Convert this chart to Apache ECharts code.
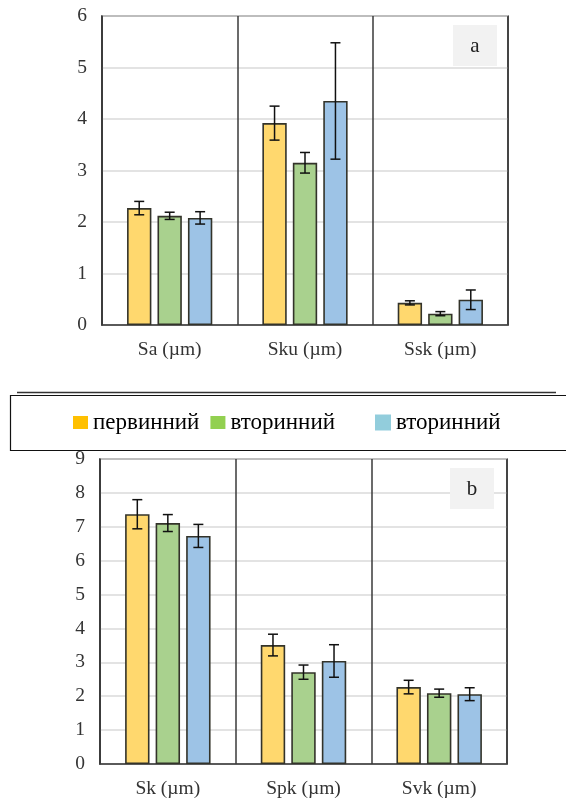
<!DOCTYPE html>
<html>
<head>
<meta charset="utf-8">
<script src="https://cdn.jsdelivr.net/npm/echarts@6/dist/echarts.min.js"></script>
<style>
  html, body { margin: 0; padding: 0; background: #fff; }
  #chart { width: 566px; height: 799px; }
</style>
</head>
<body>
<div id="chart"></div>
<script>
// Surface roughness parameters, panel (a)
const categoriesA = ['Sa (µm)', 'Sku (µm)', 'Ssk (µm)'];
const primaryA = [2.27, 3.92, 0.43];
const primaryErrA = [0.13, 0.33, 0.04];
const secondaryA = [2.12, 3.15, 0.22];
const secondaryErrA = [0.07, 0.20, 0.04];
const tertiaryA = [2.08, 4.35, 0.49];
const tertiaryErrA = [0.12, 1.13, 0.19];

// Functional (core / peak / valley) parameters, panel (b)
const categoriesB = ['Sk (µm)', 'Spk (µm)', 'Svk (µm)'];
const primaryB = [7.37, 3.51, 2.27];
const primaryErrB = [0.43, 0.32, 0.20];
const secondaryB = [7.11, 2.71, 2.09];
const secondaryErrB = [0.25, 0.21, 0.12];
const tertiaryB = [6.73, 3.04, 2.06];
const tertiaryErrB = [0.34, 0.48, 0.19];

const ticksA = [0, 1, 2, 3, 4, 5, 6];
const ticksB = [0, 1, 2, 3, 4, 5, 6, 7, 8, 9];

const seriesNames = ['первинний', 'вторинний', 'вторинний-2'];
const legendLabels = { 'первинний': 'первинний', 'вторинний': 'вторинний', 'вторинний-2': 'вторинний' };

const barColors = ['#FFD86E', '#A9D18E', '#9DC3E6'];
const legendColors = ['#FFC000', '#92D050', '#92CDDC'];

const FONT = '"Liberation Serif", "DejaVu Serif", serif';
const LINE = '#3a3a3a';
const BAR_W = 0.18;      // bar width as share of the category band
const BAR_GAP = 0.25;    // gap between bars as share of bar width

function makeAxes(gridIndex, cats, ticks) {
  const xAxis = {
    type: 'category', gridIndex, data: cats,
    axisLine: { show: true, lineStyle: { color: LINE, width: 1.5 } },
    axisTick: { show: false },
    axisLabel: { fontFamily: FONT, fontSize: 19.5, color: '#333', margin: 15 },
    splitLine: { show: true, interval: 0, lineStyle: { color: LINE, width: 1.5 } }
  };
  const yAxis = {
    type: 'value', gridIndex, min: ticks[0], max: ticks[ticks.length - 1], interval: 1,
    axisLine: { show: true, lineStyle: { color: LINE, width: 1.5 } },
    axisTick: { show: false },
    axisLabel: { fontFamily: FONT, fontSize: 19.5, color: '#333', margin: 15 },
    splitLine: { show: true, lineStyle: { color: '#DADADA', width: 1.5 } }
  };
  return { xAxis, yAxis };
}

function barSeries(name, idx, values, axisIndex) {
  return {
    type: 'bar', name, xAxisIndex: axisIndex, yAxisIndex: axisIndex,
    data: values,
    barWidth: (BAR_W * 100) + '%',
    barGap: (BAR_GAP * 100) + '%',
    itemStyle: { color: barColors[idx], borderColor: '#33332a', borderWidth: 1.6 },
    z: 2
  };
}

function errorSeries(idx, values, errs, axisIndex) {
  const data = values.map((v, i) => [i, v - errs[i], v + errs[i]]);
  return {
    type: 'custom', xAxisIndex: axisIndex, yAxisIndex: axisIndex,
    data,
    encode: { x: 0, y: [1, 2] },
    z: 5,
    silent: true,
    renderItem: function (params, api) {
      const cat = api.value(0);
      const lo = api.coord([cat, api.value(1)]);
      const hi = api.coord([cat, api.value(2)]);
      const band = api.size([1, 0])[0];
      const off = (idx - 1) * band * BAR_W * (1 + BAR_GAP);
      const x = lo[0] + off;
      const cap = 5;
      const style = { stroke: '#111', lineWidth: 1.5, fill: null };
      return {
        type: 'group',
        children: [
          { type: 'line', shape: { x1: x, y1: hi[1], x2: x, y2: lo[1] }, style },
          { type: 'line', shape: { x1: x - cap, y1: hi[1], x2: x + cap, y2: hi[1] }, style },
          { type: 'line', shape: { x1: x - cap, y1: lo[1], x2: x + cap, y2: lo[1] }, style }
        ]
      };
    }
  };
}

const axA = makeAxes(0, categoriesA, ticksA);
const axB = makeAxes(1, categoriesB, ticksB);

// Small grey corner tag with the panel letter, drawn over the grid lines
function panelTag(letter, x, y) {
  return [
    { type: 'rect', z: 100, shape: { x: x, y: y, width: 44, height: 41 }, style: { fill: '#F2F2F2' } },
    { type: 'text', z: 101, x: x + 22, y: y + 21, style: { text: letter, font: '21px ' + FONT, fill: '#222', align: 'center', verticalAlign: 'middle' } }
  ];
}

const legendText = { fontFamily: FONT, fontSize: 23, color: '#000' };

const option = {
  animation: false,
  backgroundColor: '#fff',
  grid: [
    { left: 102, right: 58, top: 16, height: 309, show: true, borderColor: LINE, borderWidth: 1.5, backgroundColor: 'transparent' },
    { left: 100, right: 59, top: 459, height: 305, show: true, borderColor: LINE, borderWidth: 1.5, backgroundColor: 'transparent' }
  ],
  xAxis: [axA.xAxis, axB.xAxis],
  yAxis: [axA.yAxis, axB.yAxis],
  legend: [
    {
      left: 68, top: 406, itemWidth: 15, itemHeight: 13, itemGap: 11,
      icon: 'rect', textStyle: legendText,
      formatter: n => legendLabels[n],
      data: [
        { name: seriesNames[0], itemStyle: { color: legendColors[0], borderWidth: 0 } },
        { name: seriesNames[1], itemStyle: { color: legendColors[1], borderWidth: 0 } }
      ]
    },
    {
      left: 370, top: 406, itemWidth: 16, itemHeight: 16, icon: 'rect', textStyle: legendText,
      formatter: n => legendLabels[n],
      data: [
        { name: seriesNames[2], itemStyle: { color: legendColors[2], borderWidth: 0 } }
      ]
    }
  ],
  graphic: [
    { type: 'line', shape: { x1: 17, y1: 392.5, x2: 556, y2: 392.5 }, style: { stroke: '#333', lineWidth: 1.5 } },
    { type: 'rect', shape: { x: 10.5, y: 395.5, width: 570, height: 55 }, style: { fill: null, stroke: '#111', lineWidth: 1.2 } },
    ...panelTag('a', 453, 25),
    ...panelTag('b', 450, 468)
  ],
  series: [
    barSeries(seriesNames[0], 0, primaryA, 0),
    barSeries(seriesNames[1], 1, secondaryA, 0),
    barSeries(seriesNames[2], 2, tertiaryA, 0),
    errorSeries(0, primaryA, primaryErrA, 0),
    errorSeries(1, secondaryA, secondaryErrA, 0),
    errorSeries(2, tertiaryA, tertiaryErrA, 0),
    barSeries(seriesNames[0], 0, primaryB, 1),
    barSeries(seriesNames[1], 1, secondaryB, 1),
    barSeries(seriesNames[2], 2, tertiaryB, 1),
    errorSeries(0, primaryB, primaryErrB, 1),
    errorSeries(1, secondaryB, secondaryErrB, 1),
    errorSeries(2, tertiaryB, tertiaryErrB, 1)
  ]
};

const chart = echarts.init(document.getElementById('chart'), null, { renderer: 'canvas' });
chart.setOption(option);
</script>
</body>
</html>
